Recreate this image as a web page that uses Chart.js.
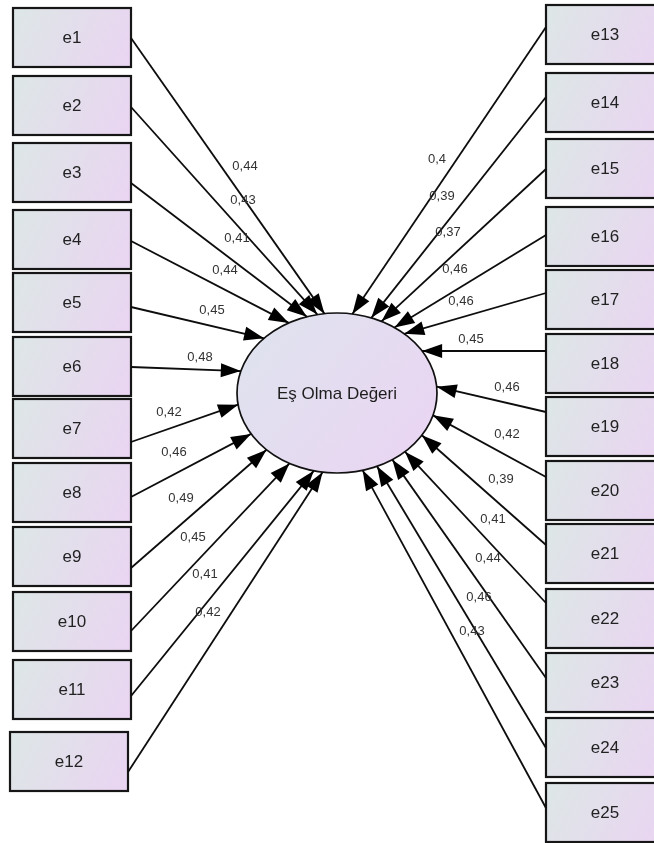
<!DOCTYPE html>
<html><head><meta charset="utf-8">
<script src="https://cdn.jsdelivr.net/npm/chart.js@4"></script>
<style>html,body{margin:0;padding:0;background:#fff;overflow:hidden}canvas{display:block}</style>
</head><body>
<canvas id="c" width="654" height="843"></canvas>
<script>
// ---- data ----
const latentName = 'Eş Olma Değeri';
const leftLabels = ['e1','e2','e3','e4','e5','e6','e7','e8','e9','e10','e11','e12'];
const leftLoadings = [0.44,0.43,0.41,0.44,0.45,0.48,0.42,0.46,0.49,0.45,0.41,0.42];
const rightLabels = ['e13','e14','e15','e16','e17','e18','e19','e20','e21','e22','e23','e24','e25'];
const rightLoadings = [0.4,0.39,0.37,0.46,0.46,0.45,0.46,0.42,0.39,0.41,0.44,0.46,0.43];

// ---- layout (diagram coordinates) ----
const ell = {cx:337, cy:393, rx:100, ry:80};
const boxW = 118, boxH = 59;
const leftBoxX = [13,13,13,13,13,13,13,13,13,13,13,10];
const leftBoxTop = [8,76,143,210,273,337,399,463,527,592,660,732];
const rightBoxX = 546;
const rightBoxTop = [5,73,139,207,270,334,397,461,524,589,653,718,783];
const leftStartY = [38,107,183,241,307,367,442,497,568,631,696,772];
const rightStartY = [27,97,169,235,293,351,412,477,545,603,678,748,808];
const leftAim = [[324,313],[316,313],[306,316],[287,322],[263,338],[240,371],[237,405],[249,435],[264,452],[287,466],[312,473],[322,473]];
const rightAim = [[353,313],[372,317],[383,320],[397,326],[407,333],[423,351],[438,387],[436,417],[425,438],[408,455],[394,462],[378,468],[363,471]];
const leftLabelPos = [[245,166],[243,200],[237,238],[225,270],[212,310],[200,357],[169,412],[174,452],[181,498],[193,537],[205,574],[208,612]];
const rightLabelPos = [[437,159],[442,196],[448,232],[455,269],[461,301],[471,339],[507,387],[507,434],[501,479],[493,519],[488,558],[479,597],[472,631]];

function fmt(v){ return String(v).replace('.', ','); }

// intersection of ray start->aim with ellipse boundary (first hit)
function hitEllipse(sx, sy, ax, ay){
  const dx = ax - sx, dy = ay - sy;
  const px = (sx - ell.cx)/ell.rx, py = (sy - ell.cy)/ell.ry;
  const qx = dx/ell.rx, qy = dy/ell.ry;
  const A = qx*qx + qy*qy, B = 2*(px*qx + py*qy), C = px*px + py*py - 1;
  const disc = B*B - 4*A*C;
  if (disc < 0) return {x:ax, y:ay};
  const t = (-B - Math.sqrt(disc))/(2*A);
  return {x: sx + dx*t, y: sy + dy*t};
}

const datasets = [];
leftLabels.forEach((lab, i) => {
  const sx = leftBoxX[i] + boxW, sy = leftStartY[i];
  const tip = hitEllipse(sx, sy, leftAim[i][0], leftAim[i][1]);
  datasets.push({label: lab, data: [{x:sx, y:sy}, tip], loading: leftLoadings[i], labelPos: leftLabelPos[i]});
});
rightLabels.forEach((lab, i) => {
  const sx = rightBoxX, sy = rightStartY[i];
  const tip = hitEllipse(sx, sy, rightAim[i][0], rightAim[i][1]);
  datasets.push({label: lab, data: [{x:sx, y:sy}, tip], loading: rightLoadings[i], labelPos: rightLabelPos[i]});
});
datasets.forEach(d => {
  d.showLine = true; d.borderColor = '#0d0d0d'; d.borderWidth = 1.8;
  d.pointRadius = 0; d.pointHoverRadius = 0; d.fill = false;
});

function drawBox(ctx, X, Y, x0, y0, w, h, text, cxText){
  const L = X.getPixelForValue(x0), R = X.getPixelForValue(x0 + w);
  const T = Y.getPixelForValue(y0), B = Y.getPixelForValue(y0 + h);
  const g = ctx.createLinearGradient(L, T, R, B);
  g.addColorStop(0, '#dde7e6');
  g.addColorStop(1, '#ead4f2');
  ctx.fillStyle = g;
  ctx.fillRect(L, T, R - L, B - T);
  ctx.lineWidth = 2.2;
  ctx.strokeStyle = '#161616';
  ctx.strokeRect(L, T, R - L, B - T);
  ctx.fillStyle = '#222';
  ctx.font = '17px "Liberation Sans", Arial, sans-serif';
  ctx.textAlign = 'center';
  ctx.textBaseline = 'middle';
  ctx.fillText(text, X.getPixelForValue(cxText), (T + B)/2 + 1);
}

const diagram = {
  id: 'diagram',
  beforeDatasetsDraw(chart){
    const {ctx, scales:{x:X, y:Y}} = chart;
    ctx.save();
    leftLabels.forEach((lab, i) => drawBox(ctx, X, Y, leftBoxX[i], leftBoxTop[i], boxW, boxH, lab, leftBoxX[i] + boxW/2));
    rightLabels.forEach((lab, i) => drawBox(ctx, X, Y, rightBoxX, rightBoxTop[i], boxW, boxH, lab, rightBoxX + 59));
    // latent ellipse
    const cx = X.getPixelForValue(ell.cx), cy = Y.getPixelForValue(ell.cy);
    const rx = X.getPixelForValue(ell.cx + ell.rx) - cx;
    const ry = Y.getPixelForValue(ell.cy + ell.ry) - cy;
    const g = ctx.createLinearGradient(cx - rx, cy - ry, cx + rx, cy + ry);
    g.addColorStop(0, '#dee4ee');
    g.addColorStop(1, '#ebd4f3');
    ctx.beginPath();
    ctx.ellipse(cx, cy, Math.abs(rx), Math.abs(ry), 0, 0, Math.PI*2);
    ctx.fillStyle = g; ctx.fill();
    ctx.lineWidth = 1.7; ctx.strokeStyle = '#111'; ctx.stroke();
    ctx.fillStyle = '#1e1e1e';
    ctx.font = '17px "Liberation Sans", Arial, sans-serif';
    ctx.textAlign = 'center'; ctx.textBaseline = 'middle';
    ctx.fillText(latentName, cx, cy + 1);
    ctx.restore();
  },
  afterDatasetsDraw(chart){
    const {ctx, scales:{x:X, y:Y}} = chart;
    ctx.save();
    chart.data.datasets.forEach((ds, i) => {
      const meta = chart.getDatasetMeta(i);
      const p0 = meta.data[0], p1 = meta.data[1];
      const ang = Math.atan2(p1.y - p0.y, p1.x - p0.x);
      const len = 20, hw = 7;
      ctx.beginPath();
      ctx.moveTo(p1.x, p1.y);
      ctx.lineTo(p1.x - len*Math.cos(ang) + hw*Math.sin(ang), p1.y - len*Math.sin(ang) - hw*Math.cos(ang));
      ctx.lineTo(p1.x - len*Math.cos(ang) - hw*Math.sin(ang), p1.y - len*Math.sin(ang) + hw*Math.cos(ang));
      ctx.closePath();
      ctx.fillStyle = '#000'; ctx.fill();
      // loading label
      ctx.fillStyle = '#333';
      ctx.font = '13px "Liberation Sans", Arial, sans-serif';
      ctx.textAlign = 'center'; ctx.textBaseline = 'middle';
      ctx.fillText(fmt(ds.loading), X.getPixelForValue(ds.labelPos[0]), Y.getPixelForValue(ds.labelPos[1]));
    });
    ctx.restore();
  }
};

new Chart(document.getElementById('c'), {
  type: 'scatter',
  data: {datasets},
  options: {
    responsive: false,
    animation: false,
    devicePixelRatio: 1,
    layout: {padding: 0},
    plugins: {legend: {display:false}, tooltip: {enabled:false}, title:{display:false}},
    scales: {
      x: {type:'linear', min:0, max:654, display:false},
      y: {type:'linear', min:0, max:843, reverse:true, display:false}
    },
    elements: {line: {tension: 0}}
  },
  plugins: [diagram]
});
</script>
</body></html>
